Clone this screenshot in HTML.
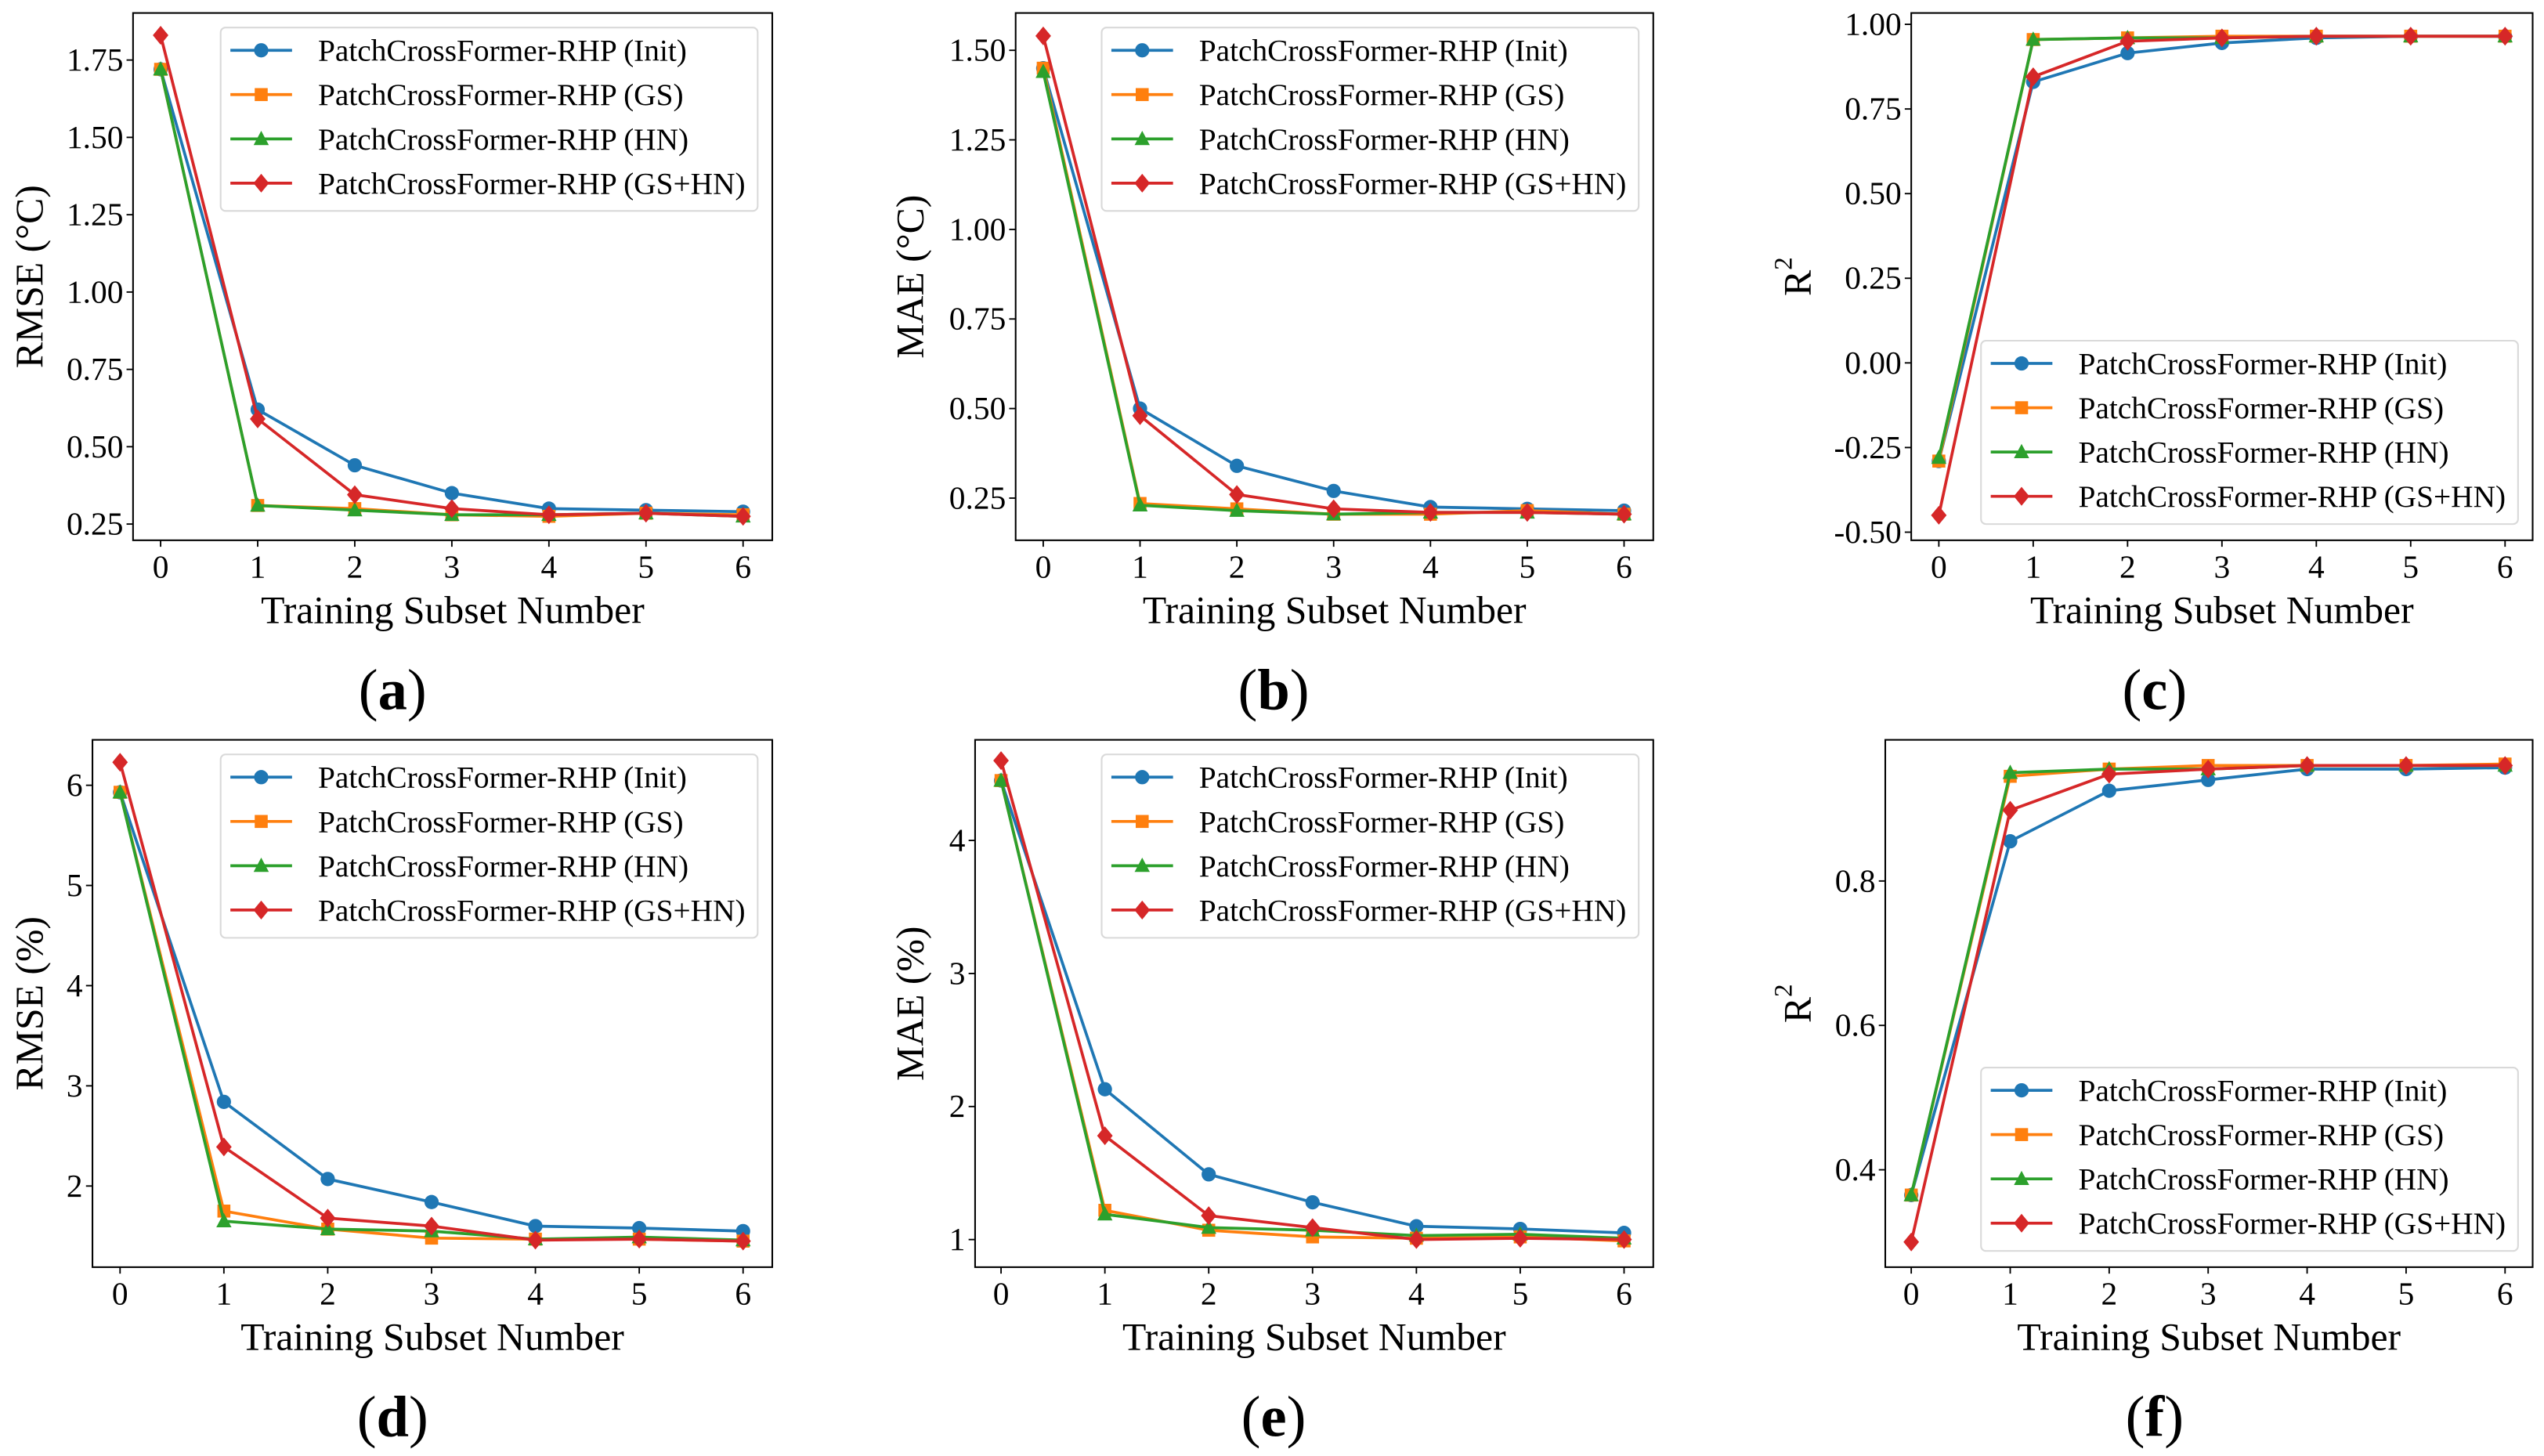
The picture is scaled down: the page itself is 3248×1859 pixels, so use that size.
<!DOCTYPE html>
<html><head><meta charset="utf-8"><style>
html,body{margin:0;padding:0;background:#fff;}
svg{display:block;font-family:"Liberation Serif",serif;}
</style></head><body>
<svg id="fig" width="3248" height="1859" viewBox="0 0 1568 897.4" preserveAspectRatio="none" xmlns="http://www.w3.org/2000/svg"></svg>
<script>
const xCats = [0,1,2,3,4,5,6];
const seriesNames = ["PatchCrossFormer-RHP (Init)","PatchCrossFormer-RHP (GS)","PatchCrossFormer-RHP (HN)","PatchCrossFormer-RHP (GS+HN)"];
// (a) RMSE °C
const aInit=[1.72,0.62,0.44,0.35,0.30,0.295,0.29];
const aGS=[1.72,0.31,0.30,0.28,0.275,0.285,0.28];
const aHN=[1.72,0.31,0.295,0.28,0.28,0.285,0.275];
const aGSHN=[1.83,0.59,0.345,0.30,0.28,0.285,0.275];
const aTicks=[0.25,0.50,0.75,1.00,1.25,1.50,1.75];
// (b) MAE °C
const bInit=[1.45,0.50,0.34,0.27,0.225,0.22,0.215];
const bGS=[1.45,0.235,0.22,0.205,0.205,0.215,0.205];
const bHN=[1.44,0.23,0.215,0.205,0.21,0.21,0.205];
const bGSHN=[1.54,0.48,0.26,0.22,0.21,0.21,0.205];
const bTicks=[0.25,0.50,0.75,1.00,1.25,1.50];
// (c) R2
const cInit=[-0.29,0.83,0.915,0.945,0.96,0.965,0.965];
const cGS=[-0.29,0.955,0.96,0.965,0.965,0.965,0.965];
const cHN=[-0.28,0.955,0.96,0.96,0.965,0.965,0.965];
const cGSHN=[-0.45,0.845,0.95,0.96,0.965,0.965,0.965];
const cTicks=[-0.50,-0.25,0.00,0.25,0.50,0.75,1.00];
// (d) RMSE %
const dInit=[5.93,2.84,2.07,1.84,1.60,1.58,1.55];
const dGS=[5.93,1.75,1.57,1.48,1.47,1.47,1.45];
const dHN=[5.93,1.65,1.57,1.55,1.47,1.49,1.46];
const dGSHN=[6.23,2.39,1.68,1.60,1.46,1.47,1.45];
const dTicks=[2,3,4,5,6];
// (e) MAE %
const eInit=[4.45,2.13,1.49,1.28,1.10,1.08,1.05];
const eGS=[4.45,1.22,1.07,1.02,1.01,1.02,0.99];
const eHN=[4.45,1.19,1.09,1.07,1.03,1.04,1.01];
const eGSHN=[4.60,1.78,1.18,1.09,1.00,1.01,1.00];
const eTicks=[1,2,3,4];
// (f) R2
const fInit=[0.365,0.855,0.925,0.94,0.955,0.955,0.957];
const fGS=[0.365,0.945,0.955,0.96,0.96,0.96,0.962];
const fHN=[0.365,0.95,0.955,0.955,0.96,0.96,0.96];
const fGSHN=[0.30,0.898,0.948,0.955,0.96,0.96,0.96];
const fTicks=[0.4,0.6,0.8];

const NS="http://www.w3.org/2000/svg";
const svg=document.getElementById('fig');
const colors=["#1f77b4","#ff7f0e","#2ca02c","#d62728"];
const markers=["circle","square","triangle","diamond"];
function mk(tag,attrs,parent){const e=document.createElementNS(NS,tag);for(const k in attrs)e.setAttribute(k,attrs[k]);(parent||svg).appendChild(e);return e;}
function marker(g,type,x,y,c){
  let e;
  if(type==="circle")e=mk('circle',{cx:x,cy:y,r:4.4,fill:c},g);
  else if(type==="square")e=mk('rect',{x:x-4,y:y-4,width:8,height:8,fill:c},g);
  else if(type==="triangle")e=mk('polygon',{points:`${x},${y-5} ${x+4.7},${y+3.8} ${x-4.7},${y+3.8}`,fill:c},g);
  else e=mk('polygon',{points:`${x},${y-5.8} ${x+4.8},${y} ${x},${y+5.8} ${x-4.8},${y}`,fill:c},g);
  return e;
}
const panels=[
 {id:'a',f:[82,8,476,333],x0:99,x6:458,t1:[1.75,37],t2:[0.25,323],ticks:aTicks,dec:2,data:[aInit,aGS,aHN,aGSHN],yl:"RMSE (°C)",ylx:18,r2:false,leg:[136,17],plx:242},
 {id:'b',f:[626,8,1019,333],x0:643,x6:1001,t1:[1.5,31],t2:[0.25,307],ticks:bTicks,dec:2,data:[bInit,bGS,bHN,bGSHN],yl:"MAE (°C)",ylx:561,r2:false,leg:[679,17],plx:785},
 {id:'c',f:[1178,8,1561,333],x0:1195,x6:1544,t1:[1.0,15],t2:[-0.5,328],ticks:cTicks,dec:2,data:[cInit,cGS,cHN,cGSHN],yl:"R",ylx:1108,r2:true,leg:[1221,210],plx:1328},
 {id:'d',f:[57,456,476,781],x0:74,x6:458,t1:[6,484],t2:[2,731],ticks:dTicks,dec:0,data:[dInit,dGS,dHN,dGSHN],yl:"RMSE (%)",ylx:18,r2:false,leg:[136,465],plx:242},
 {id:'e',f:[601,456,1019,781],x0:617,x6:1001,t1:[4,518],t2:[1,764],ticks:eTicks,dec:0,data:[eInit,eGS,eHN,eGSHN],yl:"MAE (%)",ylx:561,r2:false,leg:[679,465],plx:785},
 {id:'f',f:[1162,456,1561,781],x0:1178,x6:1544,t1:[0.8,543],t2:[0.4,721],ticks:fTicks,dec:1,data:[fInit,fGS,fHN,fGSHN],yl:"R",ylx:1108,r2:true,leg:[1221,658],plx:1328}
];
panels.forEach(p=>{
  const g=mk('g',{});
  
  
  const [L,T,R,B]=p.f;
  const xs=i=>p.x0+(p.x6-p.x0)*(xCats[i]-xCats[0])/(xCats[6]-xCats[0]);
  const ys=v=>p.t1[1]+(v-p.t1[0])*(p.t2[1]-p.t1[1])/(p.t2[0]-p.t1[0]);
  xCats.forEach((c,i)=>{
    const x=xs(i);
    mk('line',{x1:x,y1:B,x2:x,y2:B+4,stroke:'#000','stroke-width':0.9},g);
    const t=mk('text',{x:x,y:B+23,'font-size':20,'text-anchor':'middle',fill:'#000'},g);
    t.textContent=c;
    
    
  });
  p.ticks.forEach(v=>{
    const y=ys(v);
    mk('line',{x1:L-4,y1:y,x2:L,y2:y,stroke:'#000','stroke-width':0.9},g);
    const t=mk('text',{x:L-6,y:y+6.5,'font-size':20,'text-anchor':'end',fill:'#000'},g);
    t.textContent=v.toFixed(p.dec);
    
    
  });
  p.data.forEach((arr,s)=>{
    const sg=mk('g',{},g);
    
    
    mk('polyline',{points:arr.map((v,i)=>xs(i)+','+ys(v)).join(' '),fill:'none',stroke:colors[s],'stroke-width':1.8},sg);
    arr.forEach((v,i)=>{
      const m=marker(sg,markers[s],xs(i),ys(v),colors[s]);
      
      
    });
  });
  const fr=mk('rect',{x:L,y:T,width:R-L,height:B-T,fill:'none',stroke:'#000','stroke-width':1},g);
  
  
  const [lx,ly]=p.leg;
  const lg=mk('g',{},g);
  
  
  mk('rect',{x:lx,y:ly,width:331,height:113,rx:3,fill:'#fff','fill-opacity':0.85,stroke:'#d9d9d9','stroke-width':1},lg);
  seriesNames.forEach((n,s)=>{
    const y=ly+14+s*27.3;
    const eg=mk('g',{},lg);
    
    
    mk('line',{x1:lx+6,y1:y,x2:lx+44,y2:y,stroke:colors[s],'stroke-width':1.8},eg);
    marker(eg,markers[s],lx+25,y,colors[s]);
    const t=mk('text',{x:lx+60,y:y+6.5,'font-size':19,fill:'#000'},eg);
    t.textContent=n;
  });
  const cy=(T+B)/2;
  const yl=mk('text',{x:p.ylx,y:cy,'font-size':24,'text-anchor':'middle',fill:'#000',transform:`rotate(-90 ${p.ylx} ${cy})`,'dominant-baseline':'central'},g);
  
  
  if(p.r2){yl.textContent='R';const sp=mk('tspan',{'font-size':16,dy:-9},yl);sp.textContent='2';}
  else yl.textContent=p.yl;
  const xl=mk('text',{x:(L+R)/2,y:B+51,'font-size':24,'text-anchor':'middle',fill:'#000'},g);
  xl.textContent='Training Subset Number';
  
  
  const pl=mk('text',{x:p.plx,y:B+104,'font-size':36,'text-anchor':'middle',fill:'#000'},g);
  pl.textContent='(';
  const b=mk('tspan',{'font-weight':'bold'},pl);b.textContent=p.id;
  const e2=mk('tspan',{},pl);e2.textContent=')';
  
  
});
</script>
</body></html>
